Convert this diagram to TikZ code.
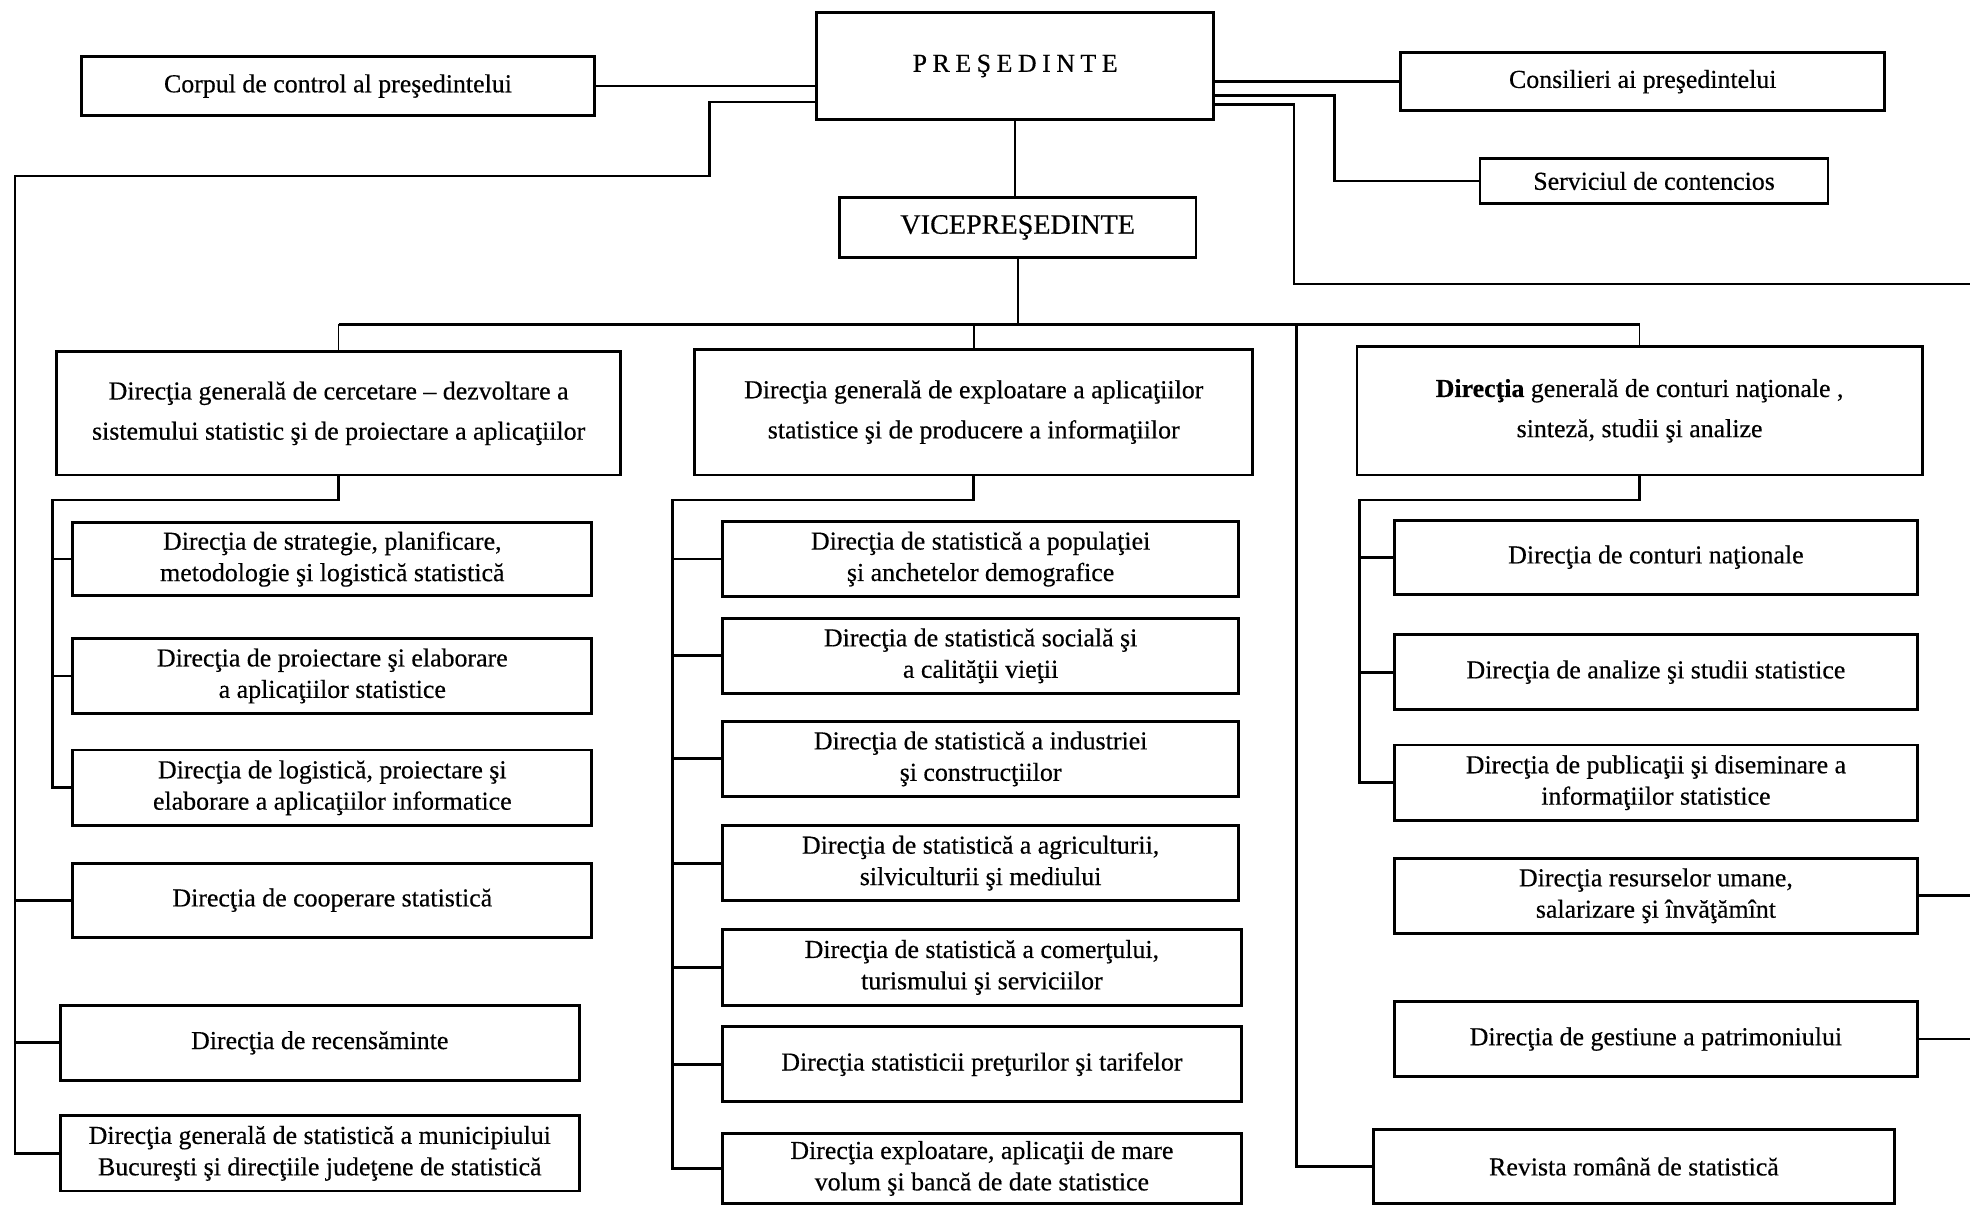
\documentclass[tikz,border=0pt]{standalone}
\usepackage{fontspec}
\setmainfont[FakeBold=0.4]{Liberation Serif}
\usetikzlibrary{calc}
\newcommand{\lsp}{\hspace{2.2pt}}
\begin{document}
\begin{tikzpicture}[x=0.5pt,y=-0.5pt,
  box/.style={draw, line width=1.1pt, inner sep=0pt, align=center, font=\fontsize{10.3}{12.5}\selectfont},
  gbox/.style={box, font=\fontsize{10.3}{16}\selectfont},
  conn/.style={line width=1.1pt},
  thinconn/.style={line width=0.7pt}]
\useasboundingbox[fill=white] (0,0) rectangle (1568,960);

% top level
\node[box, minimum width=158pt, minimum height=42.5pt] (pres) at (808,52.5) {P\lsp R\lsp E\lsp Ş\lsp E\lsp D\lsp I\lsp N\lsp T\lsp E};
\node[box, minimum width=204pt, minimum height=23.5pt] (corp) at (269,68.5) {Corpul de control al preşedintelui};
\node[box, minimum width=192.5pt, minimum height=23pt] (cons) at (1307.5,65) {Consilieri ai preşedintelui};
\node[box, minimum width=138.5pt, minimum height=18pt] (serv) at (1316.5,144) {Serviciul de contencios};
\node[box, minimum width=142pt, minimum height=24pt, font=\fontsize{11.2}{13}\selectfont] (vp) at (810,181) {VICEPREŞEDINTE};

% general directorates
\node[gbox, minimum width=224.5pt, minimum height=49pt] (g1) at (269.5,329) {Direcţia generală de cercetare – dezvoltare a\\sistemului statistic şi de proiectare a aplicaţiilor};
\node[gbox, minimum width=222pt, minimum height=50pt] (g2) at (775,328) {Direcţia generală de exploatare a aplicaţiilor\\statistice şi de producere a informaţiilor};
\node[gbox, minimum width=225pt, minimum height=51pt] (g3) at (1305,327) {{\bfseries Direcţia} generală de conturi naţionale ,\\sinteză, studii şi analize};

% column 1
\node[box, minimum width=206.5pt, minimum height=29pt] (s11) at (264.5,445) {Direcţia de strategie, planificare,\\metodologie şi logistică statistică};
\node[box, minimum width=206.5pt, minimum height=30pt] (s12) at (264.5,538) {Direcţia de proiectare şi elaborare\\a aplicaţiilor statistice};
\node[box, minimum width=206.5pt, minimum height=30pt] (s13) at (264.5,627) {Direcţia de logistică, proiectare şi\\elaborare a aplicaţiilor informatice};
\node[box, minimum width=206.5pt, minimum height=29.5pt] (coop) at (264.5,716.5) {Direcţia de cooperare statistică};
\node[box, minimum width=206.5pt, minimum height=30pt] (rec) at (254.5,830) {Direcţia de recensăminte};
\node[box, minimum width=206.5pt, minimum height=30pt] (mun) at (254.5,918) {Direcţia generală de statistică a municipiului\\Bucureşti şi direcţiile judeţene de statistică};

% column 2
\node[box, minimum width=205.5pt, minimum height=30pt] (s21) at (780.5,445) {Direcţia de statistică a populaţiei\\şi anchetelor demografice};
\node[box, minimum width=205.5pt, minimum height=30pt] (s22) at (780.5,522) {Direcţia de statistică socială şi\\a calităţii vieţii};
\node[box, minimum width=205.5pt, minimum height=30pt] (s23) at (780.5,604) {Direcţia de statistică a industriei\\şi construcţiilor};
\node[box, minimum width=205.5pt, minimum height=30pt] (s24) at (780.5,687) {Direcţia de statistică a agriculturii,\\silviculturii şi mediului};
\node[box, minimum width=206.5pt, minimum height=30pt] (s25) at (781.5,770) {Direcţia de statistică a comerţului,\\turismului şi serviciilor};
\node[box, minimum width=206.5pt, minimum height=30pt] (s26) at (781.5,847) {Direcţia statisticii preţurilor şi tarifelor};
\node[box, minimum width=206.5pt, minimum height=28pt] (s27) at (781.5,930) {Direcţia exploatare, aplicaţii de mare\\volum şi bancă de date statistice};

% column 3
\node[box, minimum width=208pt, minimum height=29.5pt] (s31) at (1318,443.5) {Direcţia de conturi naţionale};
\node[box, minimum width=208pt, minimum height=30pt] (s32) at (1318,535) {Direcţia de analize şi studii statistice};
\node[box, minimum width=208pt, minimum height=30pt] (s33) at (1318,623) {Direcţia de publicaţii şi diseminare a\\informaţiilor statistice};
\node[box, minimum width=208pt, minimum height=30pt] (s34) at (1318,713) {Direcţia resurselor umane,\\salarizare şi învăţămînt};
\node[box, minimum width=208pt, minimum height=30pt] (s35) at (1318,827) {Direcţia de gestiune a patrimoniului};
\node[box, minimum width=207.5pt, minimum height=29.5pt] (rev) at (1300.5,928.5) {Revista română de statistică};

% coordinates
\coordinate (lt) at (12,918);
\coordinate (bus) at (810,258);
\coordinate (c1) at (42,398);
\coordinate (c2) at (535,398);
\coordinate (c3) at (1082,398);
\coordinate (rt) at (1032,258);
\coordinate (e1) at (1568,226);
\coordinate (e2) at (1568,713);
\coordinate (e3) at (1568,827);

% president connections
\draw[conn] (corp.east) -- (corp.east -| pres.west);
\draw[conn] ($(pres.south west)+(0,-15)$) -| (565,140) -| (lt) -- (mun.west);
\draw[conn] (lt |- coop.west) -- (coop.west);
\draw[conn] (lt |- rec.west) -- (rec.west);
\draw[conn] (pres.east |- cons.west) -- (cons.west);
\draw[conn] ($(pres.south east)+(0,-20)$) -| (1062,144) -- (serv.west);
\draw[conn] ($(pres.south east)+(0,-13)$) -| (1030,226) -- (e1);
\draw[conn] (s34.east) -- (e2);
\draw[conn] (s35.east) -- (e3);

% vice president and bus
\draw[thinconn] (pres.south) -- (pres.south |- vp.north);
\draw[thinconn] (vp.south) -- (vp.south |- bus);
\draw[conn] (g1.north |- bus) -- (g3.north |- bus);
\draw[thinconn] (g1.north |- bus) -- (g1.north);
\draw[thinconn] (g2.north |- bus) -- (g2.north);
\draw[thinconn] (g3.north |- bus) -- (g3.north);
\draw[conn] (rt) |- (rev.west);

% column 1 tree
\draw[conn] (g1.south) |- (c1) |- (s13.west);
\draw[conn] (c1 |- s11.west) -- (s11.west);
\draw[conn] (c1 |- s12.west) -- (s12.west);

% column 2 tree
\draw[conn] (g2.south) |- (c2) |- (s27.west);
\foreach \n in {s21,s22,s23,s24,s25,s26}
  \draw[conn] (c2 |- \n.west) -- (\n.west);

% column 3 tree
\draw[conn] (g3.south) |- (c3) |- (s33.west);
\draw[conn] (c3 |- s31.west) -- (s31.west);
\draw[conn] (c3 |- s32.west) -- (s32.west);
\end{tikzpicture}
\end{document}
